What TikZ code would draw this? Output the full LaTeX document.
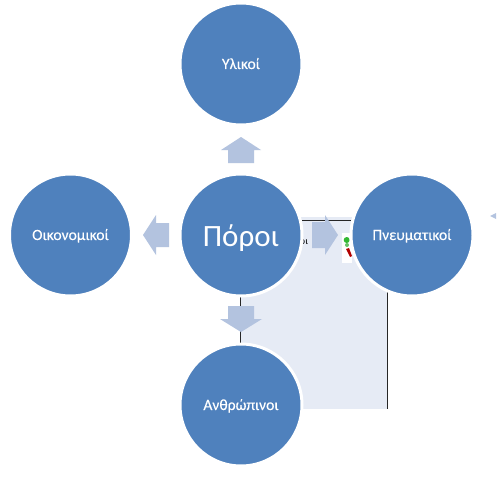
\documentclass[tikz,border=0pt]{standalone}
\usepackage{fontspec}
\setmainfont{Carlito}
\newfontfamily\boldish[FakeBold=0.25]{Carlito}
\newcommand{\lowered}[2]{\raisebox{-#1pt}[0pt][0pt]{#2}}
\definecolor{circ}{HTML}{4F81BD}
\definecolor{arr}{HTML}{B3C3DF}
\definecolor{panel}{HTML}{E6EBF5}
\tikzset{
  disc/.style={circle,fill=circ,draw=white,line width=3pt,minimum size=122pt,inner sep=0pt,text=white,font=\boldish\fontsize{15.6}{17}\selectfont},
  blockarrow/.style={fill=arr,draw=none},
  edge/.style={draw=black!85,line width=1pt}
}
\begin{document}
\begin{tikzpicture}[x=1pt,y=-1pt]
\useasboundingbox (0,0) rectangle (496,503);
\fill[white] (0,0) rectangle (496,503);
% background panel
\fill[panel] (240,217) rectangle (387,409);
\draw[edge] (302,220.5) -- (351,220.5);
\draw[edge] (387,290) -- (387,409);
\draw[edge] (240,290) -- (240,343);
% thumbnail picture
\fill[white] (342,233) rectangle (352,263);
\fill[green!65!black!80] (346.7,240) circle (3);
\fill[green!60!black!60] (347,245) circle (2);
\fill[red!70!black] (346,249) -- (349,248) -- (352,256) -- (350,257) -- cycle;
\node[font=\fontsize{10}{12}\selectfont,inner sep=0pt] (frag) at (304,242) {οι};
% block arrows
\path[blockarrow] (241,137) -- (261,150) -- (254,150) -- (254,163) -- (228,163) -- (228,150) -- (221,150) -- cycle;
\path[blockarrow] (143,235) -- (156,215) -- (156,223) -- (169,223) -- (169,247) -- (156,247) -- (156,255) -- cycle;
\path[blockarrow] (338,235) -- (325,215) -- (325,222) -- (312,222) -- (312,248) -- (325,248) -- (325,255) -- cycle;
\path[blockarrow] (241,332) -- (262,319) -- (254,319) -- (254,306) -- (228,306) -- (228,319) -- (220,319) -- cycle;
\path[blockarrow] (490,216) -- (496,213) -- (496,219) -- cycle;
% discs
\node[disc] (top) at (241,64) {\lowered{5}{Υλικοί}};
\node[disc] (left) at (70.5,235) {\lowered{5}{Οικονομικοί}};
\node[disc,font=\fontsize{31}{34}\selectfont] (centre) at (241,235) {\lowered{11}{Πόροι}};
\node[disc] (right) at (412,235) {\lowered{5}{Πνευματικοί}};
\node[disc] (bottom) at (241,405) {\lowered{5}{Ανθρώπινοι}};
\end{tikzpicture}
\end{document}
